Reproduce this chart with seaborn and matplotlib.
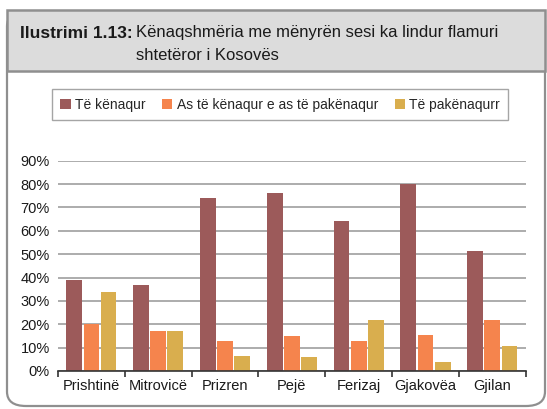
import matplotlib
matplotlib.use("Agg")
import matplotlib.pyplot as plt
import seaborn as sns
import pandas as pd
import numpy as np
from matplotlib.patches import FancyBboxPatch, Rectangle
from matplotlib import font_manager

categories = ["Prishtinë", "Mitrovicë", "Prizren", "Pejë", "Ferizaj", "Gjakovëa", "Gjilan"]
series_names = ["Të kënaqur", "As të kënaqur e as të pakënaqur", "Të pakënaqurr"]
kenaqur = [39, 37, 74, 76, 64, 80, 51.5]
asnjera = [20, 17, 13, 15, 13, 15.5, 22]
pakenaqur = [34, 17, 6.5, 6, 22, 4, 10.5]
yticks = [0, 10, 20, 30, 40, 50, 60, 70, 80, 90]
colors = ["#9C5A5A", "#F5844D", "#D9AE4E"]

sns.set_theme(style="white")
avail = {f.name for f in font_manager.fontManager.ttflist}
narrow = "Liberation Sans Narrow" if "Liberation Sans Narrow" in avail else "Liberation Sans"
plt.rcParams["font.family"] = [narrow, "DejaVu Sans"]

df = pd.DataFrame({
    "cat": categories * 3,
    "series": sum([[s] * len(categories) for s in series_names], []),
    "val": kenaqur + asnjera + pakenaqur,
})

W, H = 547, 409
fig = plt.figure(figsize=(W / 100, H / 100), dpi=100)

def fx(px):
    return px / W

def fy(py):
    return 1 - py / H

# outer rounded frame
frame = FancyBboxPatch((fx(7), fy(406)), fx(545) - fx(7), fy(12) - fy(406),
                       boxstyle="round,pad=0,rounding_size=0.035",
                       transform=fig.transFigure, facecolor="none",
                       edgecolor="#8f8f8f", linewidth=1.6, zorder=0)
fig.patches.append(frame)
# title box
tbox = Rectangle((fx(7), fy(71)), fx(545) - fx(7), fy(10) - fy(71),
                 transform=fig.transFigure, facecolor="#dcdcdc",
                 edgecolor="#8f8f8f", linewidth=1.8, zorder=1)
fig.patches.append(tbox)

fig.text(fx(133), fy(33), "Ilustrimi 1.13:", ha="right", va="center",
         fontsize=12.5, fontweight="bold", color="#1a1a1a")
fig.text(fx(136), fy(33), "Kënaqshmëria me mënyrën sesi ka lindur flamuri",
         ha="left", va="center", fontsize=12, color="#1a1a1a")
fig.text(fx(136), fy(56), "shtetëror i Kosovës",
         ha="left", va="center", fontsize=12, color="#1a1a1a")

ax = fig.add_axes([fx(58), fy(371), fx(525.7) - fx(58), fy(160.7) - fy(371)])
ax.set_zorder(3)
ax.patch.set_alpha(0)
sns.barplot(data=df, x="cat", y="val", hue="series", palette=colors,
            width=0.77, gap=0.08, ax=ax, saturation=1, legend=True,
            linewidth=0)

ax.set_ylim(0, 90)
ax.set_xlim(-0.5, len(categories) - 0.5)
ax.set_yticks(yticks)
ax.set_yticklabels([f"{v}%" for v in yticks], fontsize=10.5, color="#1a1a1a")
ax.yaxis.grid(True, color="#a6a6a6", linewidth=1.3)
ax.set_axisbelow(True)
ax.tick_params(axis="y", length=0, pad=6)

ax.set_xticks(np.arange(-0.5, len(categories), 1.0))
ax.set_xticklabels([])
ax.set_xticks(np.arange(len(categories)), minor=True)
ax.set_xticklabels(categories, minor=True, fontsize=10.5, color="#1a1a1a")
ax.tick_params(axis="x", which="major", length=4, width=1.2, color="#333333",
               direction="out", bottom=True)
ax.tick_params(axis="x", which="minor", length=0, pad=6)
ax.set_xlabel("")
ax.set_ylabel("")
for s in ["top", "right", "left"]:
    ax.spines[s].set_visible(False)
ax.spines["bottom"].set_color("#333333")
ax.spines["bottom"].set_linewidth(1.2)

handles, labels = ax.get_legend_handles_labels()
ax.get_legend().remove()
leg = fig.legend(handles, labels, loc="center", bbox_to_anchor=(fx(280), fy(104.5)),
                 ncol=3, frameon=True, fancybox=False, fontsize=10,
                 handlelength=0.75, handleheight=0.75, handletextpad=0.3,
                 columnspacing=1.2, borderpad=0.6)
leg.get_frame().set_edgecolor("#8f8f8f")
leg.get_frame().set_linewidth(1.0)

fig.savefig("out.png", dpi=100)
